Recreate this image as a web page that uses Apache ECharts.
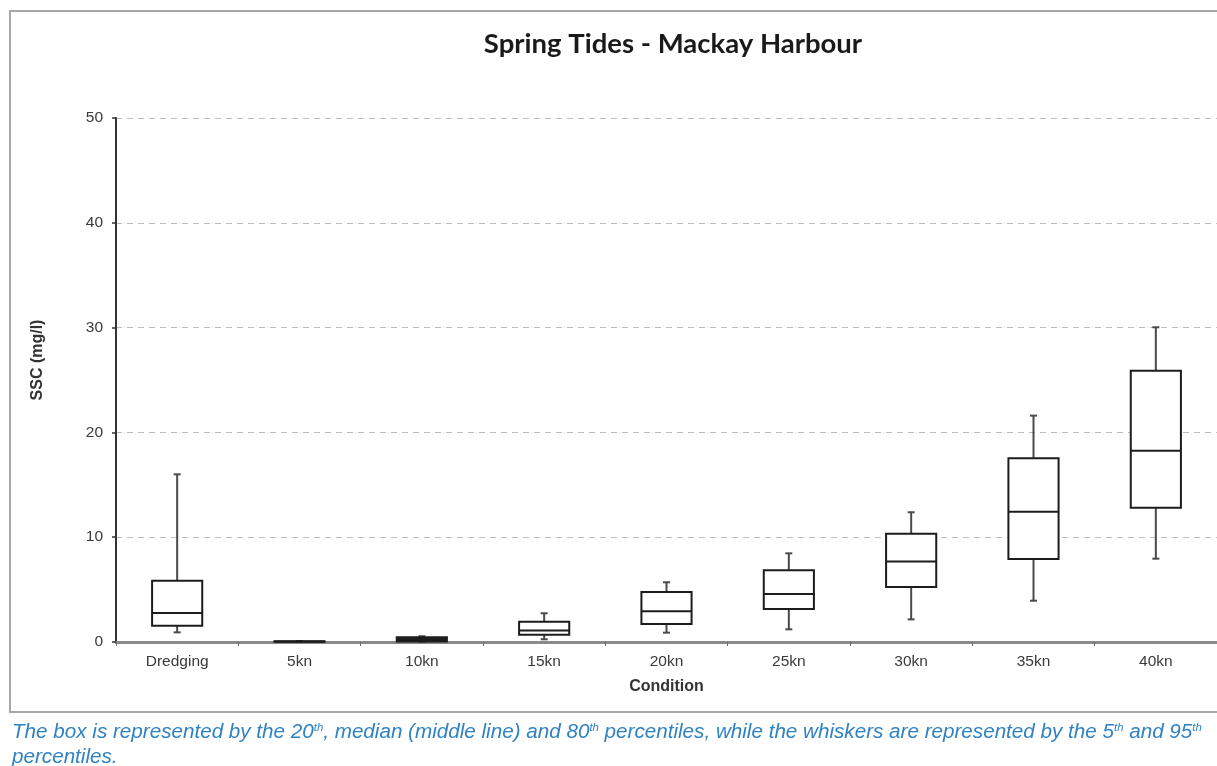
<!DOCTYPE html>
<html>
<head>
<meta charset="utf-8">
<title>Spring Tides - Mackay Harbour</title>
<script src="https://cdn.jsdelivr.net/npm/echarts@6/dist/echarts.min.js"></script>
<style>
  html, body { margin: 0; padding: 0; background: #ffffff; }
  #chart { width: 1217px; height: 766px; }
</style>
</head>
<body>
<div id="chart"></div>
<script>
// Suspended sediment concentration (mg/l) per condition
const categories = ['Dredging', '5kn', '10kn', '15kn', '20kn', '25kn', '30kn', '35kn', '40kn'];
const p5     = [0.92, 0.02, 0.03, 0.26, 0.89, 1.21, 2.16, 3.94, 7.95];
const p20    = [1.56, 0.03, 0.04, 0.70, 1.72, 3.15, 5.25, 7.92, 12.81];
const median = [2.77, 0.05, 0.25, 1.10, 2.93, 4.58, 7.67, 12.43, 18.25];
const p80    = [5.85, 0.07, 0.45, 1.94, 4.77, 6.84, 10.34, 17.53, 25.89];
const p95    = [16.0, 0.09, 0.55, 2.74, 5.70, 8.46, 12.38, 21.60, 30.03];
const yTicks = [0, 10, 20, 30, 40, 50];

const boxData = categories.map((c, i) => [i, p5[i], p20[i], median[i], p80[i], p95[i]]);

// Box = 20th–80th percentile, middle line = median, whiskers = 5th and 95th percentile
function renderBox(params, api) {
  const idx = api.value(0);
  const lo = api.coord([idx, api.value(1)]);
  const q1 = api.coord([idx, api.value(2)]);
  const md = api.coord([idx, api.value(3)]);
  const q3 = api.coord([idx, api.value(4)]);
  const hi = api.coord([idx, api.value(5)]);
  const band = api.size([1, 0])[0];
  const half = band * 0.205;
  const cap = 3.5;
  const cx = md[0];
  const boxH = q1[1] - q3[1];
  const whisker = { stroke: '#4a4a4a', lineWidth: 2 };
  const edge = { stroke: '#1c1c1c', lineWidth: 2 };
  // very flat boxes close up into a solid bar
  const fill = boxH < 5 ? '#1c1c1c' : '#ffffff';
  return {
    type: 'group',
    children: [
      { type: 'line', shape: { x1: cx, y1: hi[1], x2: cx, y2: q3[1] }, style: whisker },
      { type: 'line', shape: { x1: cx - cap, y1: hi[1], x2: cx + cap, y2: hi[1] }, style: whisker },
      { type: 'line', shape: { x1: cx, y1: q1[1], x2: cx, y2: lo[1] }, style: whisker },
      { type: 'line', shape: { x1: cx - cap, y1: lo[1], x2: cx + cap, y2: lo[1] }, style: whisker },
      { type: 'rect', shape: { x: cx - half, y: q3[1], width: half * 2, height: boxH },
        style: Object.assign({ fill: fill }, edge) },
      { type: 'line', shape: { x1: cx - half, y1: md[1], x2: cx + half, y2: md[1] }, style: edge }
    ]
  };
}

const chart = echarts.init(document.getElementById('chart'), null, { renderer: 'canvas' });

chart.setOption({
  animation: false,
  backgroundColor: '#ffffff',
  title: {
    text: 'Spring Tides - Mackay Harbour',
    left: 668,
    top: 25,
    textAlign: 'center',
    textStyle: { fontFamily: 'Lato', fontWeight: 'bold', fontSize: 27.5, color: '#1a1a1a' }
  },
  grid: { left: 116, right: -10, top: 118, bottom: 124, containLabel: false },
  xAxis: {
    type: 'category',
    data: categories,
    boundaryGap: true,
    name: 'Condition',
    nameLocation: 'middle',
    nameGap: 45,
    nameTextStyle: { fontFamily: 'Liberation Sans', fontWeight: 'bold', fontSize: 16, color: '#333333', verticalAlign: 'middle' },
    axisLine: { lineStyle: { color: '#8a8a8a', width: 3 } },
    axisTick: { show: true, alignWithLabel: false, length: 4, lineStyle: { color: '#6a6a6a', width: 1 } },
    axisLabel: { fontFamily: 'Liberation Sans', fontSize: 15.5, color: '#3a3a3a', margin: 12 },
    splitLine: { show: false }
  },
  yAxis: {
    type: 'value',
    min: yTicks[0],
    max: yTicks[yTicks.length - 1],
    interval: 10,
    axisLine: { show: true, onZero: false, lineStyle: { color: '#333333', width: 2 } },
    axisTick: { show: true, length: 4, lineStyle: { color: '#333333', width: 1.5 } },
    axisLabel: { fontFamily: 'Liberation Sans', fontSize: 15.5, color: '#3a3a3a', margin: 13 },
    splitLine: { show: true, lineStyle: { color: '#bdbdbd', width: 1, type: [6, 5] } }
  },
  graphic: [
    {
      type: 'rect', silent: true, z: -1,
      shape: { x: 10, y: 11, width: 1240, height: 701 },
      style: { fill: null, stroke: '#a8a8a8', lineWidth: 2 }
    },
    {
      type: 'text', silent: true,
      x: 38, y: 360, rotation: Math.PI / 2,
      style: {
        text: 'SSC (mg/l)', fontFamily: 'Liberation Sans', fontWeight: 'bold', fontSize: 16,
        fill: '#333333', align: 'center', verticalAlign: 'middle'
      }
    },
    {
      type: 'text', silent: true,
      x: 12, y: 732, scaleX: 1.032,
      style: {
        text: 'The box is represented by the 20{sup|th}, median (middle line) and 80{sup|th} percentiles, while the whiskers are represented by the 5{sup|th} and 95{sup|th}',
        fontFamily: 'Liberation Sans', fontStyle: 'italic', fontSize: 20, fill: '#2f82c4',
        align: 'left', verticalAlign: 'middle',
        rich: { sup: { fontFamily: 'Liberation Sans', fontStyle: 'italic', fontSize: 11, fill: '#2f82c4', verticalAlign: 'top' } }
      }
    },
    {
      type: 'text', silent: true,
      x: 12, y: 757, scaleX: 1.032,
      style: {
        text: 'percentiles.', fontFamily: 'Liberation Sans', fontStyle: 'italic', fontSize: 20, fill: '#2f82c4',
        align: 'left', verticalAlign: 'middle'
      }
    }
  ],
  series: [{
    type: 'custom',
    name: 'SSC',
    renderItem: renderBox,
    encode: { x: 0, y: [1, 2, 3, 4, 5] },
    data: boxData,
    z: 5
  }]
});
</script>
</body>
</html>
